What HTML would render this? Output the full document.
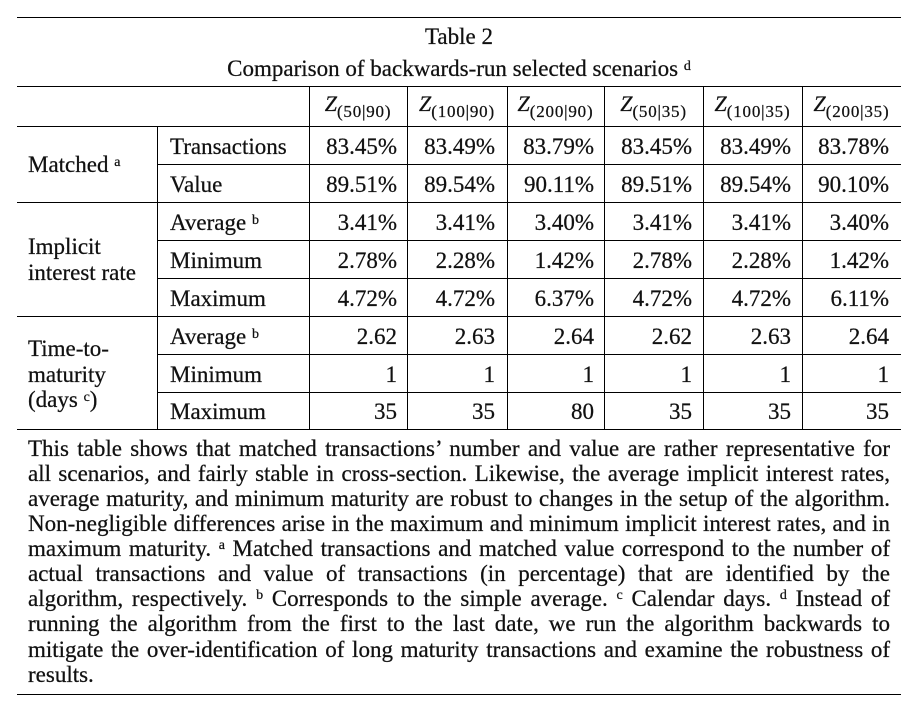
<!DOCTYPE html>
<html>
<head>
<meta charset="utf-8">
<style>
  html, body { margin:0; padding:0; background:#fff; }
  #c { position:relative; width:917px; height:712px; overflow:hidden; background:#fff;
       font-family:"Liberation Serif", "DejaVu Serif", serif; color:#111; -webkit-text-stroke:0.25px #111; }
  .h { position:absolute; height:1.5px; background:#000; }
  .v { position:absolute; width:1.5px; background:#000; }
  .t { position:absolute; font-size:23px; line-height:1; white-space:nowrap; }
  .r { text-align:right; }
  .ctr { text-align:center; }
  .sp { font-size:14px; position:relative; top:-6px; }
  .zh { position:absolute; top:92.6px; text-align:center; white-space:nowrap; line-height:1; }
  .zh i { font-size:22px; font-style:italic; }
  .zh span { font-size:17px; letter-spacing:0.8px; position:relative; top:6px; }
  .p { position:absolute; left:28px; width:862px; font-size:23px; line-height:1;
       text-align:justify; text-align-last:justify; }
  .p.last { text-align-last:left; }
  .p .sp { font-size:14px; top:-7px; }
</style>
</head>
<body>
<div id="c">
  <!-- horizontal rules -->
  <div class="h" style="left:17px;width:884px;top:16.5px;"></div>
  <div class="h" style="left:17px;width:884px;top:85.5px;"></div>
  <div class="h" style="left:17px;width:884px;top:125.5px;"></div>
  <div class="h" style="left:157px;width:744px;top:163.5px;"></div>
  <div class="h" style="left:17px;width:884px;top:201.5px;"></div>
  <div class="h" style="left:157px;width:744px;top:239.5px;"></div>
  <div class="h" style="left:157px;width:744px;top:277.5px;"></div>
  <div class="h" style="left:17px;width:884px;top:315.5px;"></div>
  <div class="h" style="left:157px;width:744px;top:353.5px;"></div>
  <div class="h" style="left:157px;width:744px;top:391.5px;"></div>
  <div class="h" style="left:17px;width:884px;top:428.5px;"></div>
  <div class="h" style="left:17px;width:884px;top:693.5px;"></div>

  <!-- vertical rules -->
  <div class="v" style="left:156.5px;top:126px;height:304px;"></div>
  <div class="v" style="left:308.5px;top:86px;height:344px;"></div>
  <div class="v" style="left:406.5px;top:86px;height:344px;"></div>
  <div class="v" style="left:506.5px;top:86px;height:344px;"></div>
  <div class="v" style="left:603.5px;top:86px;height:344px;"></div>
  <div class="v" style="left:702.5px;top:86px;height:344px;"></div>
  <div class="v" style="left:801.5px;top:86px;height:344px;"></div>

  <!-- titles -->
  <div class="t ctr" style="left:17px;width:884px;top:24.7px;">Table 2</div>
  <div class="t ctr" style="left:17px;width:884px;top:56.7px;">Comparison of backwards-run selected scenarios <span class="sp">d</span></div>

  <!-- column headers -->
  <div class="zh" style="left:309px;width:98px;"><i>Z</i><span>(50|90)</span></div>
  <div class="zh" style="left:407px;width:100px;"><i>Z</i><span>(100|90)</span></div>
  <div class="zh" style="left:507px;width:97px;"><i>Z</i><span>(200|90)</span></div>
  <div class="zh" style="left:604px;width:99px;"><i>Z</i><span>(50|35)</span></div>
  <div class="zh" style="left:703px;width:99px;"><i>Z</i><span>(100|35)</span></div>
  <div class="zh" style="left:802px;width:99px;"><i>Z</i><span>(200|35)</span></div>

  <!-- group labels -->
  <div class="t" style="left:28px;top:152.7px;">Matched <span class="sp">a</span></div>
  <div class="t" style="left:28px;top:234.7px;">Implicit</div>
  <div class="t" style="left:28px;top:260.7px;">interest rate</div>
  <div class="t" style="left:28px;top:336.7px;">Time-to-</div>
  <div class="t" style="left:28px;top:362.7px;">maturity</div>
  <div class="t" style="left:28px;top:387.7px;">(days <span class="sp">c</span>)</div>

  <!-- row labels -->
  <div class="t" style="left:170px;top:134.7px;">Transactions</div>
  <div class="t" style="left:170px;top:172.7px;">Value</div>
  <div class="t" style="left:170px;top:211.2px;">Average <span class="sp">b</span></div>
  <div class="t" style="left:170px;top:248.7px;">Minimum</div>
  <div class="t" style="left:170px;top:286.7px;">Maximum</div>
  <div class="t" style="left:170px;top:324.7px;">Average <span class="sp">b</span></div>
  <div class="t" style="left:170px;top:362.7px;">Minimum</div>
  <div class="t" style="left:170px;top:400.2px;">Maximum</div>

  <!-- row 1 -->
  <div class="t r" style="right:520px;top:134.7px;">83.45%</div>
  <div class="t r" style="right:422px;top:134.7px;">83.49%</div>
  <div class="t r" style="right:323px;top:134.7px;">83.79%</div>
  <div class="t r" style="right:225px;top:134.7px;">83.45%</div>
  <div class="t r" style="right:126px;top:134.7px;">83.49%</div>
  <div class="t r" style="right:28px;top:134.7px;">83.78%</div>
  <!-- row 2 -->
  <div class="t r" style="right:520px;top:172.7px;">89.51%</div>
  <div class="t r" style="right:422px;top:172.7px;">89.54%</div>
  <div class="t r" style="right:323px;top:172.7px;">90.11%</div>
  <div class="t r" style="right:225px;top:172.7px;">89.51%</div>
  <div class="t r" style="right:126px;top:172.7px;">89.54%</div>
  <div class="t r" style="right:28px;top:172.7px;">90.10%</div>
  <!-- row 3 -->
  <div class="t r" style="right:520px;top:211.2px;">3.41%</div>
  <div class="t r" style="right:422px;top:211.2px;">3.41%</div>
  <div class="t r" style="right:323px;top:211.2px;">3.40%</div>
  <div class="t r" style="right:225px;top:211.2px;">3.41%</div>
  <div class="t r" style="right:126px;top:211.2px;">3.41%</div>
  <div class="t r" style="right:28px;top:211.2px;">3.40%</div>
  <!-- row 4 -->
  <div class="t r" style="right:520px;top:248.7px;">2.78%</div>
  <div class="t r" style="right:422px;top:248.7px;">2.28%</div>
  <div class="t r" style="right:323px;top:248.7px;">1.42%</div>
  <div class="t r" style="right:225px;top:248.7px;">2.78%</div>
  <div class="t r" style="right:126px;top:248.7px;">2.28%</div>
  <div class="t r" style="right:28px;top:248.7px;">1.42%</div>
  <!-- row 5 -->
  <div class="t r" style="right:520px;top:286.7px;">4.72%</div>
  <div class="t r" style="right:422px;top:286.7px;">4.72%</div>
  <div class="t r" style="right:323px;top:286.7px;">6.37%</div>
  <div class="t r" style="right:225px;top:286.7px;">4.72%</div>
  <div class="t r" style="right:126px;top:286.7px;">4.72%</div>
  <div class="t r" style="right:28px;top:286.7px;">6.11%</div>
  <!-- row 6 -->
  <div class="t r" style="right:520px;top:324.7px;">2.62</div>
  <div class="t r" style="right:422px;top:324.7px;">2.63</div>
  <div class="t r" style="right:323px;top:324.7px;">2.64</div>
  <div class="t r" style="right:225px;top:324.7px;">2.62</div>
  <div class="t r" style="right:126px;top:324.7px;">2.63</div>
  <div class="t r" style="right:28px;top:324.7px;">2.64</div>
  <!-- row 7 -->
  <div class="t r" style="right:520px;top:362.7px;">1</div>
  <div class="t r" style="right:422px;top:362.7px;">1</div>
  <div class="t r" style="right:323px;top:362.7px;">1</div>
  <div class="t r" style="right:225px;top:362.7px;">1</div>
  <div class="t r" style="right:126px;top:362.7px;">1</div>
  <div class="t r" style="right:28px;top:362.7px;">1</div>
  <!-- row 8 -->
  <div class="t r" style="right:520px;top:400.2px;">35</div>
  <div class="t r" style="right:422px;top:400.2px;">35</div>
  <div class="t r" style="right:323px;top:400.2px;">80</div>
  <div class="t r" style="right:225px;top:400.2px;">35</div>
  <div class="t r" style="right:126px;top:400.2px;">35</div>
  <div class="t r" style="right:28px;top:400.2px;">35</div>

  <!-- note paragraph -->
  <div class="p" style="top:436.7px;">This table shows that matched transactions’ number and value are rather representative for</div>
  <div class="p" style="top:461.8px;">all scenarios, and fairly stable in cross-section. Likewise, the average implicit interest rates,</div>
  <div class="p" style="top:486.9px;">average maturity, and minimum maturity are robust to changes in the setup of the algorithm.</div>
  <div class="p" style="top:512.0px;">Non-negligible differences arise in the maximum and minimum implicit interest rates, and in</div>
  <div class="p" style="top:537.1px;">maximum maturity. <span class="sp">a</span> Matched transactions and matched value correspond to the number of</div>
  <div class="p" style="top:562.2px;">actual transactions and value of transactions (in percentage) that are identified by the</div>
  <div class="p" style="top:587.3px;">algorithm, respectively. <span class="sp">b</span> Corresponds to the simple average. <span class="sp">c</span> Calendar days. <span class="sp">d</span> Instead of</div>
  <div class="p" style="top:612.4px;">running the algorithm from the first to the last date, we run the algorithm backwards to</div>
  <div class="p" style="top:637.5px;">mitigate the over-identification of long maturity transactions and examine the robustness of</div>
  <div class="p last" style="top:662.6px;">results.</div>
</div>
</body>
</html>
